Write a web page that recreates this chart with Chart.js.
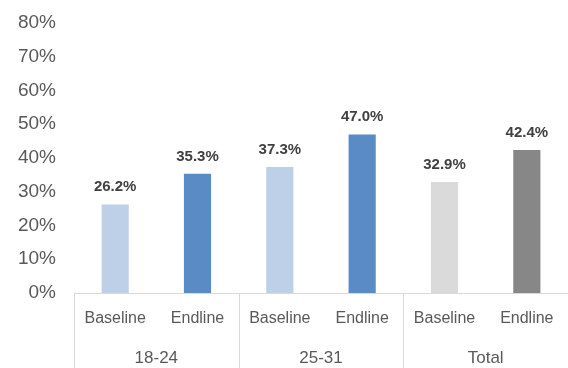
<!DOCTYPE html>
<html>
<head>
<meta charset="utf-8">
<script src="https://cdn.jsdelivr.net/npm/chart.js@4.4.0/dist/chart.umd.min.js"></script>
<style>
html,body{margin:0;padding:0;background:#fff;}
#wrap{width:568px;height:368px;position:relative;}
</style>
</head>
<body>
<div id="wrap"><canvas id="c" width="568" height="368"></canvas></div>
<script>
const categories = ['Baseline','Endline','Baseline','Endline','Baseline','Endline'];
const groups = ['18-24','25-31','Total'];
const values = [0.262, 0.353, 0.373, 0.470, 0.329, 0.424];
const valueLabels = ['26.2%','35.3%','37.3%','47.0%','32.9%','42.4%'];
const barColors = ['#bdd0e8','#5b8bc4','#bdd0e8','#5b8bc4','#dadada','#878787'];
const yTicks = [0,0.1,0.2,0.3,0.4,0.5,0.6,0.7,0.8];

const FONT = "'Liberation Sans', Arial, Helvetica, sans-serif";

const labelPlugin = {
  id: 'labels',
  afterDatasetsDraw(chart) {
    const ctx = chart.ctx;
    const meta = chart.getDatasetMeta(0);
    ctx.save();
    ctx.font = 'bold 15px ' + FONT;
    ctx.fillStyle = '#404040';
    ctx.textAlign = 'center';
    ctx.textBaseline = 'bottom';
    meta.data.forEach((bar, i) => {
      ctx.fillText(valueLabels[i], bar.x, bar.y - 10);
    });
    ctx.restore();
  }
};

const sepPlugin = {
  id: 'seps',
  afterDraw(chart) {
    const ctx = chart.ctx;
    const xs = chart.scales.x;
    const area = chart.chartArea;
    ctx.save();
    ctx.strokeStyle = '#d9d9d9';
    ctx.lineWidth = 1;
    const bounds = [area.left];
    for (let g = 1; g < groups.length; g++) {
      bounds.push((xs.getPixelForValue(2*g-1) + xs.getPixelForValue(2*g)) / 2);
    }
    ctx.beginPath();
    bounds.forEach(b => {
      const px = Math.round(b) + 0.5;
      ctx.moveTo(px, area.bottom);
      ctx.lineTo(px, chart.height);
    });
    ctx.moveTo(area.left, Math.round(area.bottom) + 0.5);
    ctx.lineTo(chart.width, Math.round(area.bottom) + 0.5);
    ctx.stroke();
    ctx.restore();
  }
};

function noSidePad(scale) {
  scale.paddingLeft = 0;
  scale.paddingRight = 0;
}

new Chart(document.getElementById('c'), {
  type: 'bar',
  data: {
    labels: categories,
    datasets: [{
      data: values,
      backgroundColor: barColors,
      borderWidth: 0,
      categoryPercentage: 1,
      barPercentage: 0.33
    }]
  },
  options: {
    responsive: false,
    animation: false,
    layout: { padding: { top: 23, right: 0, left: 8, bottom: 0 } },
    plugins: { legend: { display: false }, tooltip: { enabled: false } },
    scales: {
      y: {
        min: 0, max: 0.8,
        afterBuildTicks(scale) { scale.ticks = yTicks.map(v => ({ value: v })); },
        ticks: {
          callback: v => Math.round(v * 100) + '%',
          font: { family: FONT, size: 19 },
          color: '#595959',
          padding: 18
        },
        grid: { display: false, drawTicks: false },
        border: { display: false },
        afterFit(scale) { scale.width = 66; scale.paddingTop = 0; scale.paddingBottom = 0; }
      },
      x: {
        position: 'bottom',
        ticks: {
          font: { family: FONT, size: 16 },
          color: '#595959',
          padding: 16,
          maxRotation: 0,
          autoSkip: false
        },
        grid: { display: false, drawTicks: false },
        border: { display: false },
        afterFit(scale) { scale.height = 40; noSidePad(scale); }
      },
      x2: {
        type: 'category',
        labels: groups,
        position: 'bottom',
        offset: true,
        ticks: {
          font: { family: FONT, size: 17 },
          color: '#595959',
          padding: 15,
          maxRotation: 0,
          autoSkip: false
        },
        grid: { display: false, drawTicks: false },
        border: { display: false },
        afterFit(scale) { scale.height = 35; noSidePad(scale); }
      }
    }
  },
  plugins: [labelPlugin, sepPlugin]
});
</script>
</body>
</html>
